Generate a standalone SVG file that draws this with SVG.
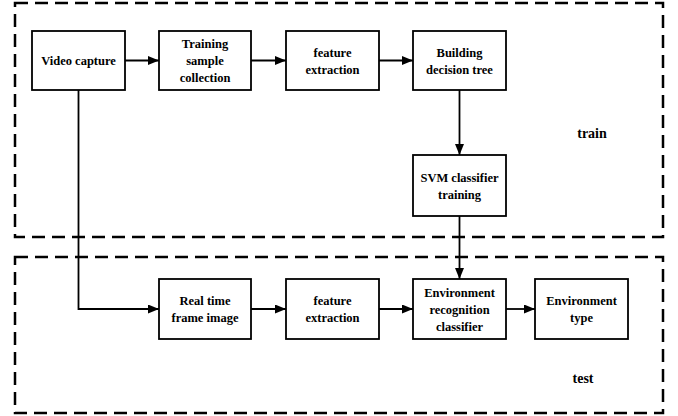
<svg xmlns="http://www.w3.org/2000/svg" width="678" height="416" viewBox="0 0 678 416">
  <style>
    .bg { fill: #ffffff; }
    .region { fill: none; stroke: #000; stroke-width: 2.5; stroke-dasharray: 13 7; }
    .box { fill: #ffffff; stroke: #000; stroke-width: 1.8; }
    .lbl { font-family: "Liberation Serif", "DejaVu Serif Condensed", "DejaVu Serif", serif; font-weight: bold; font-size: 12.5px; fill: #000; text-anchor: middle; }
    .tag { font-family: "Liberation Serif", "DejaVu Serif Condensed", "DejaVu Serif", serif; font-weight: bold; font-size: 14px; fill: #000; text-anchor: middle; }
    .link { fill: none; stroke: #000; stroke-width: 1.8; }
  </style>
  <defs>
    <marker id="arrow" markerWidth="11" markerHeight="9" refX="11" refY="4.5" orient="auto" markerUnits="userSpaceOnUse">
      <path d="M0,0 L11,4.5 L0,9 Z" fill="#000"/>
    </marker>
  </defs>

  <rect class="bg" x="0" y="0" width="678" height="416"/>

  <!-- stage regions -->
  <g id="regions">
    <rect class="region" x="15" y="3" width="648" height="234"/>
    <rect class="region" x="15" y="257" width="648" height="156"/>
    <text class="tag" x="592" y="138">train</text>
    <text class="tag" x="583" y="383">test</text>
  </g>

  <!-- connectors -->
  <g id="connectors">
    <line class="link" x1="125" y1="60.5" x2="159" y2="60.5" marker-end="url(#arrow)"/>
    <line class="link" x1="251" y1="60.5" x2="286" y2="60.5" marker-end="url(#arrow)"/>
    <line class="link" x1="379" y1="60.5" x2="413" y2="60.5" marker-end="url(#arrow)"/>
    <line class="link" x1="459.5" y1="90" x2="459.5" y2="155" marker-end="url(#arrow)"/>
    <line class="link" x1="459.5" y1="216" x2="459.5" y2="279" marker-end="url(#arrow)"/>
    <polyline class="link" points="78.5,90 78.5,309 159,309" marker-end="url(#arrow)"/>
    <line class="link" x1="251" y1="309" x2="286" y2="309" marker-end="url(#arrow)"/>
    <line class="link" x1="379" y1="309" x2="413" y2="309" marker-end="url(#arrow)"/>
    <line class="link" x1="506" y1="309" x2="535" y2="309" marker-end="url(#arrow)"/>
  </g>

  <!-- training pipeline -->
  <g id="video-capture">
    <rect class="box" x="32" y="31" width="93" height="59"/>
    <text class="lbl" x="78.5" y="65">Video capture</text>
  </g>
  <g id="training-sample-collection">
    <rect class="box" x="159" y="31" width="92" height="59"/>
    <text class="lbl" x="205" y="48">Training</text>
    <text class="lbl" x="205" y="65">sample</text>
    <text class="lbl" x="205" y="82">collection</text>
  </g>
  <g id="feature-extraction-train">
    <rect class="box" x="286" y="31" width="93" height="59"/>
    <text class="lbl" x="332.5" y="56.5">feature</text>
    <text class="lbl" x="332.5" y="73.5">extraction</text>
  </g>
  <g id="building-decision-tree">
    <rect class="box" x="413" y="31" width="93" height="59"/>
    <text class="lbl" x="459.5" y="56.5">Building</text>
    <text class="lbl" x="459.5" y="73.5">decision tree</text>
  </g>
  <g id="svm-classifier-training">
    <rect class="box" x="413" y="155" width="93" height="61"/>
    <text class="lbl" x="459.5" y="181.5">SVM classifier</text>
    <text class="lbl" x="459.5" y="198.5">training</text>
  </g>

  <!-- test pipeline -->
  <g id="real-time-frame-image">
    <rect class="box" x="159" y="279" width="92" height="60"/>
    <text class="lbl" x="205" y="305">Real time</text>
    <text class="lbl" x="205" y="322">frame image</text>
  </g>
  <g id="feature-extraction-test">
    <rect class="box" x="286" y="279" width="93" height="60"/>
    <text class="lbl" x="332.5" y="305">feature</text>
    <text class="lbl" x="332.5" y="322">extraction</text>
  </g>
  <g id="environment-recognition-classifier">
    <rect class="box" x="413" y="279" width="93" height="60"/>
    <text class="lbl" x="459.5" y="296.5">Environment</text>
    <text class="lbl" x="459.5" y="313.5">recognition</text>
    <text class="lbl" x="459.5" y="330.5">classifier</text>
  </g>
  <g id="environment-type">
    <rect class="box" x="535" y="279" width="93" height="60"/>
    <text class="lbl" x="581.5" y="305">Environment</text>
    <text class="lbl" x="581.5" y="322">type</text>
  </g>
</svg>
